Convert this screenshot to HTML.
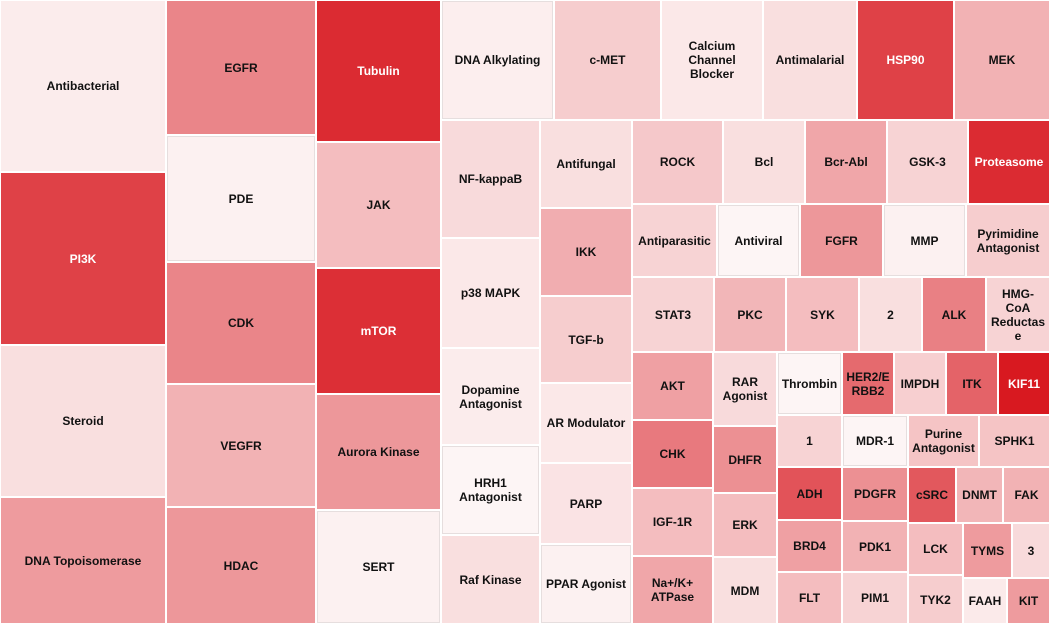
<!DOCTYPE html>
<html><head><meta charset="utf-8">
<style>
html,body{margin:0;padding:0;background:#fff;}
#chart{position:relative;width:1050px;height:624px;overflow:hidden;font-family:"Liberation Sans",Arial,sans-serif;}
.cell{position:absolute;box-sizing:border-box;display:flex;align-items:center;justify-content:center;text-align:center;font-weight:bold;font-size:12px;line-height:14px;padding:0 1px;white-space:pre-line;overflow-wrap:break-word;word-break:normal;color:#111;}
</style></head>
<body>
<div id="chart"></div>
<script>
const names = ["Antibacterial","PI3K","Steroid","DNA Topoisomerase","EGFR","PDE","CDK","VEGFR","HDAC","Tubulin","JAK","mTOR","Aurora Kinase","SERT","DNA Alkylating","c-MET","Calcium\nChannel\nBlocker","Antimalarial","HSP90","MEK","NF-kappaB","p38 MAPK","Dopamine Antagonist","HRH1 Antagonist","Raf Kinase","Antifungal","IKK","TGF-b","AR Modulator","PARP","PPAR Agonist","ROCK","Bcl","Bcr-Abl","GSK-3","Proteasome","Antiparasitic","Antiviral","FGFR","MMP","Pyrimidine\nAntagonist","STAT3","PKC","SYK","2","ALK","HMG-\nCoA\nReductas\ne","AKT","CHK","IGF-1R","Na+/K+\nATPase","RAR\nAgonist","DHFR","ERK","MDM","Thrombin","HER2/E\nRBB2","IMPDH","ITK","KIF11","1","MDR-1","Purine\nAntagonist","SPHK1","ADH","BRD4","FLT","PDGFR","PDK1","PIM1","cSRC","DNMT","FAK","LCK","TYMS","3","TYK2","FAAH","KIT"];
const values = [0.04,0.8,0.1,0.4,0.5,0.02,0.5,0.3,0.42,0.9,0.25,0.88,0.42,0.02,0.03,0.18,0.06,0.1,0.8,0.3,0.12,0.06,0.04,0.0,0.1,0.1,0.32,0.18,0.06,0.08,0.02,0.2,0.1,0.35,0.15,0.9,0.15,0.0,0.42,0.02,0.18,0.15,0.28,0.25,0.1,0.52,0.15,0.38,0.55,0.25,0.35,0.12,0.45,0.25,0.1,0.0,0.62,0.17,0.65,0.98,0.15,0.0,0.22,0.22,0.72,0.38,0.25,0.45,0.3,0.15,0.7,0.28,0.3,0.25,0.4,0.12,0.18,0.05,0.4];
// layout boxes (x0,y0,x1,y1) from the treemap tiling
const layout = [[0,0,166,172],[0,172,166,345],[0,345,166,497],[0,497,166,624],[166,0,316,135],[166,135,316,262],[166,262,316,384],[166,384,316,507],[166,507,316,624],[316,0,441,142],[316,142,441,268],[316,268,441,394],[316,394,441,510],[316,510,441,624],[441,0,554,120],[554,0,661,120],[661,0,763,120],[763,0,857,120],[857,0,954,120],[954,0,1050,120],[441,120,540,238],[441,238,540,348],[441,348,540,445],[441,445,540,535],[441,535,540,624],[540,120,632,208],[540,208,632,296],[540,296,632,383],[540,383,632,463],[540,463,632,544],[540,544,632,624],[632,120,723,204],[723,120,805,204],[805,120,887,204],[887,120,968,204],[968,120,1050,204],[632,204,717,277],[717,204,800,277],[800,204,883,277],[883,204,966,277],[966,204,1050,277],[632,277,714,352],[714,277,786,352],[786,277,859,352],[859,277,922,352],[922,277,986,352],[986,277,1050,352],[632,352,713,420],[632,420,713,488],[632,488,713,556],[632,556,713,624],[713,352,777,426],[713,426,777,493],[713,493,777,557],[713,557,777,624],[777,352,842,415],[842,352,894,415],[894,352,946,415],[946,352,998,415],[998,352,1050,415],[777,415,842,467],[842,415,908,467],[908,415,979,467],[979,415,1050,467],[777,467,842,520],[777,520,842,572],[777,572,842,624],[842,467,908,521],[842,521,908,572],[842,572,908,624],[908,467,956,523],[956,467,1003,523],[1003,467,1050,523],[908,523,963,575],[963,523,1012,578],[1012,523,1050,578],[908,575,963,624],[963,578,1007,624],[1007,578,1050,624]];
function color(v){
  const a=[253,245,245], b=[215,20,28];
  const c=a.map((x,i)=>Math.round(x+(b[i]-x)*v));
  return `rgb(${c[0]},${c[1]},${c[2]})`;
}
const chart=document.getElementById('chart');
names.forEach((n,i)=>{
  const r=layout[i];
  const d=document.createElement('div');
  d.className='cell';
  
  
  d.style.left=(r[0]+1)+'px';d.style.top=(r[1]+1)+'px';
  d.style.width=(r[2]-r[0]-2)+'px';d.style.height=(r[3]-r[1]-2)+'px';
  d.style.background=color(values[i]);
  if(values[i]<0.04) d.style.border='1px solid #e6dede';
  if(values[i]>0.75) d.style.color='#fff';
  d.textContent=n;
  chart.appendChild(d);
});
</script>
</body></html>
